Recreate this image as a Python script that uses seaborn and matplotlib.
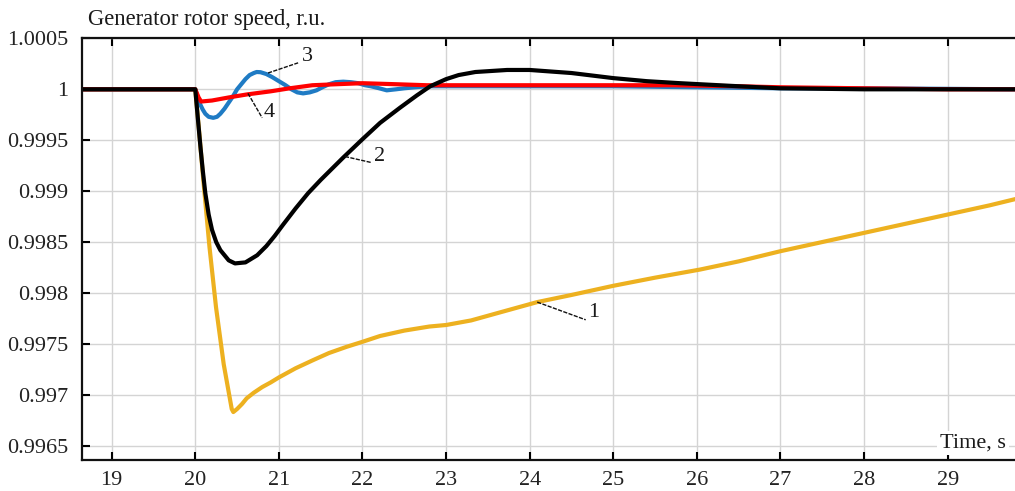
import matplotlib
matplotlib.use("Agg")
import matplotlib.pyplot as plt
import seaborn as sns
import pandas as pd

# ---- data ----
t1 = [18.6, 20.0, 20.05, 20.096, 20.17, 20.248, 20.34, 20.436, 20.455, 20.5, 20.56, 20.615,
      20.7, 20.8, 20.9, 21.0, 21.2, 21.412, 21.6, 21.811, 22.0, 22.21, 22.5, 22.8, 23.0, 23.3,
      23.65, 24.09, 24.5, 25.0, 25.5, 26.04, 26.5, 27.0, 27.5, 28.0, 28.5, 29.0, 29.5, 29.85]
v1 = [1.0, 1.0, 0.99955, 0.99911, 0.99845, 0.99786, 0.99730, 0.99686, 0.99683, 0.99686, 0.99691, 0.996965,
      0.99702, 0.997075, 0.99712, 0.99717, 0.99726, 0.997341, 0.99741, 0.997471, 0.99752, 0.997577, 0.99763, 0.99767, 0.997685, 0.99773,
      0.99781, 0.99791, 0.99798, 0.99807, 0.99815, 0.99823, 0.99831, 0.99841, 0.99850, 0.99859, 0.99868, 0.99877, 0.99886, 0.99893]

t2 = [18.6, 20.0, 20.03, 20.06, 20.09, 20.12, 20.16, 20.2, 20.25, 20.3, 20.4, 20.475, 20.6, 20.74,
      20.85, 20.95, 21.05, 21.2, 21.35, 21.5, 21.77, 22.0, 22.21, 22.45, 22.65, 22.81, 23.0, 23.15,
      23.35, 23.73, 24.0, 24.5, 25.0, 25.4, 25.8, 26.5, 27.0, 28.0, 29.85]
v2 = [1.0, 1.0, 0.99972, 0.99945, 0.99920, 0.99898, 0.99877, 0.99862, 0.99850, 0.99842, 0.99832, 0.99829, 0.99830, 0.99837,
      0.99846, 0.99856, 0.99867, 0.99883, 0.99898, 0.99911, 0.99933, 0.99951, 0.99967, 0.99982, 0.99994, 1.00003, 1.00010, 1.00014,
      1.00017, 1.00019, 1.00019, 1.00016, 1.00011, 1.00008, 1.00006, 1.00003, 1.00001, 1.0, 1.0]

t3 = [18.6, 20.0, 20.03, 20.06, 20.09, 20.12, 20.16, 20.215, 20.26, 20.3, 20.35, 20.4, 20.45, 20.5,
      20.55, 20.6, 20.65, 20.7, 20.734, 20.78, 20.85, 20.92, 21.0, 21.08, 21.15, 21.22, 21.29, 21.37,
      21.45, 21.52, 21.6, 21.68, 21.77, 21.86, 21.95, 22.03, 22.1, 22.2, 22.29, 22.4, 22.5, 22.63,
      22.77, 23.2, 24.0, 25.0, 26.0, 27.0, 28.0, 29.85]
v3 = [1.0, 1.0, 0.99992, 0.99985, 0.99980, 0.99976, 0.99973, 0.99972, 0.99973, 0.99976, 0.99981, 0.99987, 0.99993, 1.0,
      1.00005, 1.0001, 1.00014, 1.00016, 1.00017, 1.000168, 1.00015, 1.00012, 1.00008, 1.00004, 1.0, 0.99997, 0.99996, 0.99997,
      0.99999, 1.00002, 1.00005, 1.00007, 1.000075, 1.00007, 1.00006, 1.00004, 1.00003, 1.00001, 0.99999, 1.0, 1.00001, 1.00002,
      1.00003, 1.00003, 1.00003, 1.00003, 1.00002, 1.00001, 1.00001, 1.0]

t4 = [18.6, 20.0, 20.04, 20.07, 20.2, 20.4, 20.62, 20.9, 21.13, 21.4, 21.69, 22.0, 22.4,
      22.77, 24.0, 25.0, 25.7, 26.5, 27.0, 28.0, 29.0, 29.85]
v4 = [1.0, 1.0, 0.99992, 0.99988, 0.99989, 0.99992, 0.99995, 0.99998, 1.00001, 1.00004, 1.00005, 1.00006, 1.00005,
      1.00004, 1.00004, 1.00004, 1.00004, 1.00003, 1.00002, 1.00001, 1.0, 1.0]

x_ticks = [19, 20, 21, 22, 23, 24, 25, 26, 27, 28, 29]
y_ticks = [0.9965, 0.997, 0.9975, 0.998, 0.9985, 0.999, 0.9995, 1.0, 1.0005]
y_tick_labels = ["0.9965", "0.997", "0.9975", "0.998", "0.9985", "0.999", "0.9995", "1", "1.0005"]
title = "Generator rotor speed, r.u."
xlabel = "Time, s"

series_labels = ["1", "2", "3", "4"]
colors = ["#EDB120", "#000000", "#1F7BC4", "#FF0000"]

# ---- style ----
sns.set_theme(style="ticks")
plt.rcParams["font.family"] = ["Liberation Serif", "DejaVu Serif"]

fig = plt.figure(figsize=(10.15, 4.91), dpi=100)
ax = fig.add_axes([82/1015, 1-460/491, 1-82/1015, (460-38)/491])

ax.grid(True, color="#d4d4d4", linewidth=1.0)
ax.set_axisbelow(True)

frames = [(t1, v1), (t3, v3), (t4, v4), (t2, v2)]
order_colors = [colors[0], colors[2], colors[3], colors[1]]
for (tt, vv), c in zip(frames, order_colors):
    df = pd.DataFrame({"t": tt, "v": vv})
    sns.lineplot(data=df, x="t", y="v", ax=ax, color=c, linewidth=3.0, sort=False,
                 estimator=None, solid_capstyle="round", solid_joinstyle="round")

ax.set_xlim(18.645, 29.805)
ax.set_ylim(0.996359, 1.000504)
ax.set_xticks(x_ticks)
ax.set_xticklabels([str(x) for x in x_ticks])
ax.set_yticks(y_ticks)
ax.set_yticklabels(y_tick_labels)
ax.set_xlabel("")
ax.set_ylabel("")
ax.tick_params(axis="both", direction="in", length=6, width=1.5, labelsize=16,
               colors="#000000", labelcolor="#222222")
ax.tick_params(axis="x", top=True, pad=8)
ax.tick_params(axis="y", pad=10)
for s in ["left", "bottom", "top"]:
    ax.spines[s].set_visible(True)
    ax.spines[s].set_linewidth(1.6)
    ax.spines[s].set_color("#111111")
ax.spines["right"].set_visible(False)

fig.text(88/1015, 1-20/491, title, fontsize=16.3, ha="left", va="center", color="#1a1a1a")
fig.text(1006/1015, 1-443/491, xlabel, fontsize=16, ha="right", va="center", color="#1a1a1a",
         bbox=dict(facecolor="white", edgecolor="none", pad=2))

ann = [
    ("1", (24.09, 0.99791), (24.67, 0.997736), (24.76, 0.99781)),
    ("2", (21.79, 0.99934), (22.11, 0.99928), (22.20, 0.99934)),
    ("3", (20.87, 1.00016), (21.23, 1.00026), (21.34, 1.00032)),
    ("4", (20.63, 0.99996), (20.80, 0.99972), (20.89, 0.99977)),
]
for lab, p0, p1, pt in ann:
    ax.plot([p0[0], p1[0]], [p0[1], p1[1]], color="#111111", linewidth=1.0, linestyle=(0, (3, 1)))
    ax.text(pt[0], pt[1], lab, fontsize=16, ha="center", va="center", color="#1a1a1a")

fig.savefig("out.png", dpi=100)
